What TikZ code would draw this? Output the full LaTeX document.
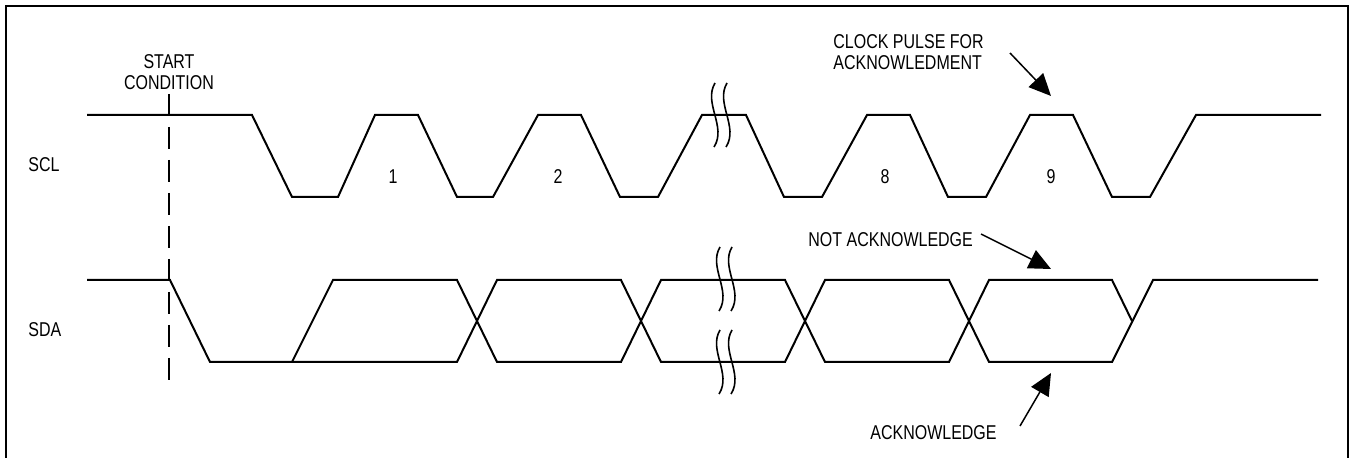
\documentclass[tikz,border=0pt]{standalone}
\usepackage{fontspec}
\setmainfont{Liberation Sans}[FakeStretch=0.8]
\usetikzlibrary{arrows.meta}
\begin{document}
\begin{tikzpicture}[x=0.5pt,y=-0.5pt,
  wave/.style={line width=1pt, line join=miter},
  brkline/.style={line width=0.8pt},
  lbl/.style={font=\fontsize{10}{10.5}\selectfont, inner sep=0pt},
  callout/.style={line width=0.75pt, -{Triangle[length=11pt,width=10pt]}}]
\useasboundingbox (0,0) rectangle (1350,458);
% frame
\draw[line width=1pt] (6,458) -- (6,6) -- (1348,6) -- (1348,458);
% start condition marker
\draw[line width=0.8pt, dash pattern=on 11pt off 5.5pt] (169,94) -- (169,380);
% SCL
\draw[wave] (87,115) -- (252,115) -- (292,197) -- (338,197) -- (375,115) -- (418,115)
  -- (457,197) -- (493,197) -- (538,115) -- (581,115) -- (620,197) -- (658,197)
  -- (702,115) -- (746,115) -- (784,197) -- (822,197) -- (867,115) -- (910,115)
  -- (948,197) -- (986,197) -- (1030,115) -- (1073,115) -- (1112,197) -- (1150,197)
  -- (1196,115) -- (1321,115);
% SDA
\draw[wave] (87,280) -- (170,280) -- (210,362) -- (457,362) -- (497,280) -- (621,280)
  -- (661,362) -- (785,362) -- (825,280) -- (949,280) -- (989,362) -- (1112,362)
  -- (1153,280) -- (1318,280);
\draw[wave] (292,362) -- (333,280) -- (457,280) -- (497,362) -- (621,362) -- (661,280)
  -- (785,280) -- (825,362) -- (949,362) -- (989,280) -- (1112,280) -- (1132,321);
% break marks
\foreach \bx/\by in {715/83, 727/83, 720/247, 732/247, 720/330, 732/330}
  \draw[brkline] (\bx,\by) .. controls (\bx-12,\by+20) and (\bx+12,\by+44) .. (\bx-1,\by+64);
% labels
\node[lbl, align=center] (start) at (169,72) {START\\CONDITION};
\node[lbl, anchor=west] (scl) at (28,165) {SCL};
\node[lbl, anchor=west] (sda) at (28,330) {SDA};
\node[lbl] (n1) at (393,177) {1};
\node[lbl] (n2) at (558,177) {2};
\node[lbl] (n8) at (885,177) {8};
\node[lbl] (n9) at (1051,177) {9};
\node[lbl, align=left, anchor=west] (clk) at (833,52) {CLOCK PULSE FOR\\ACKNOWLEDMENT};
\node[lbl, anchor=west] (nack) at (808,240) {NOT ACKNOWLEDGE};
\node[lbl, anchor=east] (ack) at (997,433) {ACKNOWLEDGE};
% callout arrows
\coordinate (clktail) at (1010,53);
\coordinate (clktip) at (1051,96);
\coordinate (nacktail) at (981,234);
\coordinate (nacktip) at (1051,269);
\coordinate (acktail) at (1020,426);
\coordinate (acktip) at (1051,373);
\draw[callout] (clktail) -- (clktip);
\draw[callout] (nacktail) -- (nacktip);
\draw[callout] (acktail) -- (acktip);
\end{tikzpicture}
\end{document}
